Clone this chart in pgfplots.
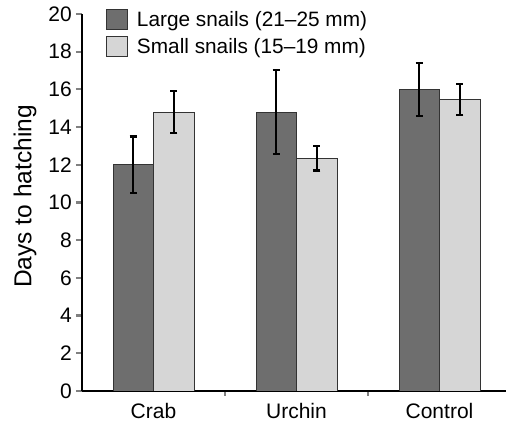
\documentclass[border=0pt]{standalone}
\usepackage{pgfplots}
\pgfplotsset{compat=1.18}
\usepackage{fontspec}
\setmainfont{Liberation Sans}

\definecolor{largebar}{HTML}{6E6E6E}
\definecolor{smallbar}{HTML}{D6D6D6}
\definecolor{baredge}{HTML}{333333}

\begin{document}
\begin{tikzpicture}[x=1pt,y=1pt]
\useasboundingbox (-82,-31) rectangle (424,391);
\begin{axis}[
  at={(0,0)}, anchor=south west,
  scale only axis,
  width=424pt, height=377pt,
  xmin=-0.5, xmax=2.465,
  ymin=0, ymax=20,
  axis x line*=bottom,
  axis y line*=left,
  axis line style={line width=2.4pt, -},
  ytick={0,2,...,20},
  xtick={0,1,2},
  xticklabels={Crab,Urchin,Control},
  minor xtick={0.5,1.5},
  major x tick style={draw=none},
  minor tick length=5pt,
  minor x tick style={line width=2.2pt},
  major tick length=6pt,
  y tick style={line width=2.2pt},
  tick align=outside,
  /pgf/number format/assume math mode=true,
  yticklabel style={font=\fontsize{21}{25}\selectfont, inner sep=0pt, xshift=-4pt},
  xticklabel style={font=\fontsize{21}{25}\selectfont, inner sep=0pt, yshift=-6pt},
  ylabel={Days to hatching},
  every axis y label/.style={at={(axis description cs:0,0.5)}, xshift=-57pt, yshift=6pt,
    rotate=90, anchor=center, font=\fontsize{24.5}{28}\selectfont},
  ybar, bar width=40.5pt,
  legend style={at={(0,1)}, anchor=north west, xshift=24pt, yshift=5pt,
    draw=none, fill=none, inner sep=0pt, row sep=6pt,
    font=\fontsize{20.8}{24}\selectfont,
    nodes={inner sep=0pt, anchor=west}},
  legend cell align=left,
  legend columns=1,
  /tikz/every odd column/.append style={column sep=9pt},
  legend image code/.code={\draw[#1,/tikz/.cd,line width=0.8pt] (0pt,-10pt) rectangle (21pt,10pt);},
  error bars/error bar style={line width=2.4pt, black},
  error bars/error mark options={rotate=90, mark size=3.6pt, line width=2.2pt, black},
]
\addplot+[bar shift=-20.25pt, fill=largebar, draw=baredge, line width=0.8pt,
  error bars/.cd, y dir=both, y explicit]
  coordinates {
    (0,12.0)  +- (0,1.50)
    (1,14.8)  +- (0,2.22)
    (2,16.0)  +- (0,1.40)
  };
\addplot+[bar shift=20.25pt, fill=smallbar, draw=baredge, line width=0.8pt,
  error bars/.cd, y dir=both, y explicit]
  coordinates {
    (0,14.8)  +- (0,1.12)
    (1,12.35) +- (0,0.65)
    (2,15.45) +- (0,0.82)
  };
\legend{Large snails (21--25 mm), Small snails (15--19 mm)}
\end{axis}
\end{tikzpicture}
\end{document}
